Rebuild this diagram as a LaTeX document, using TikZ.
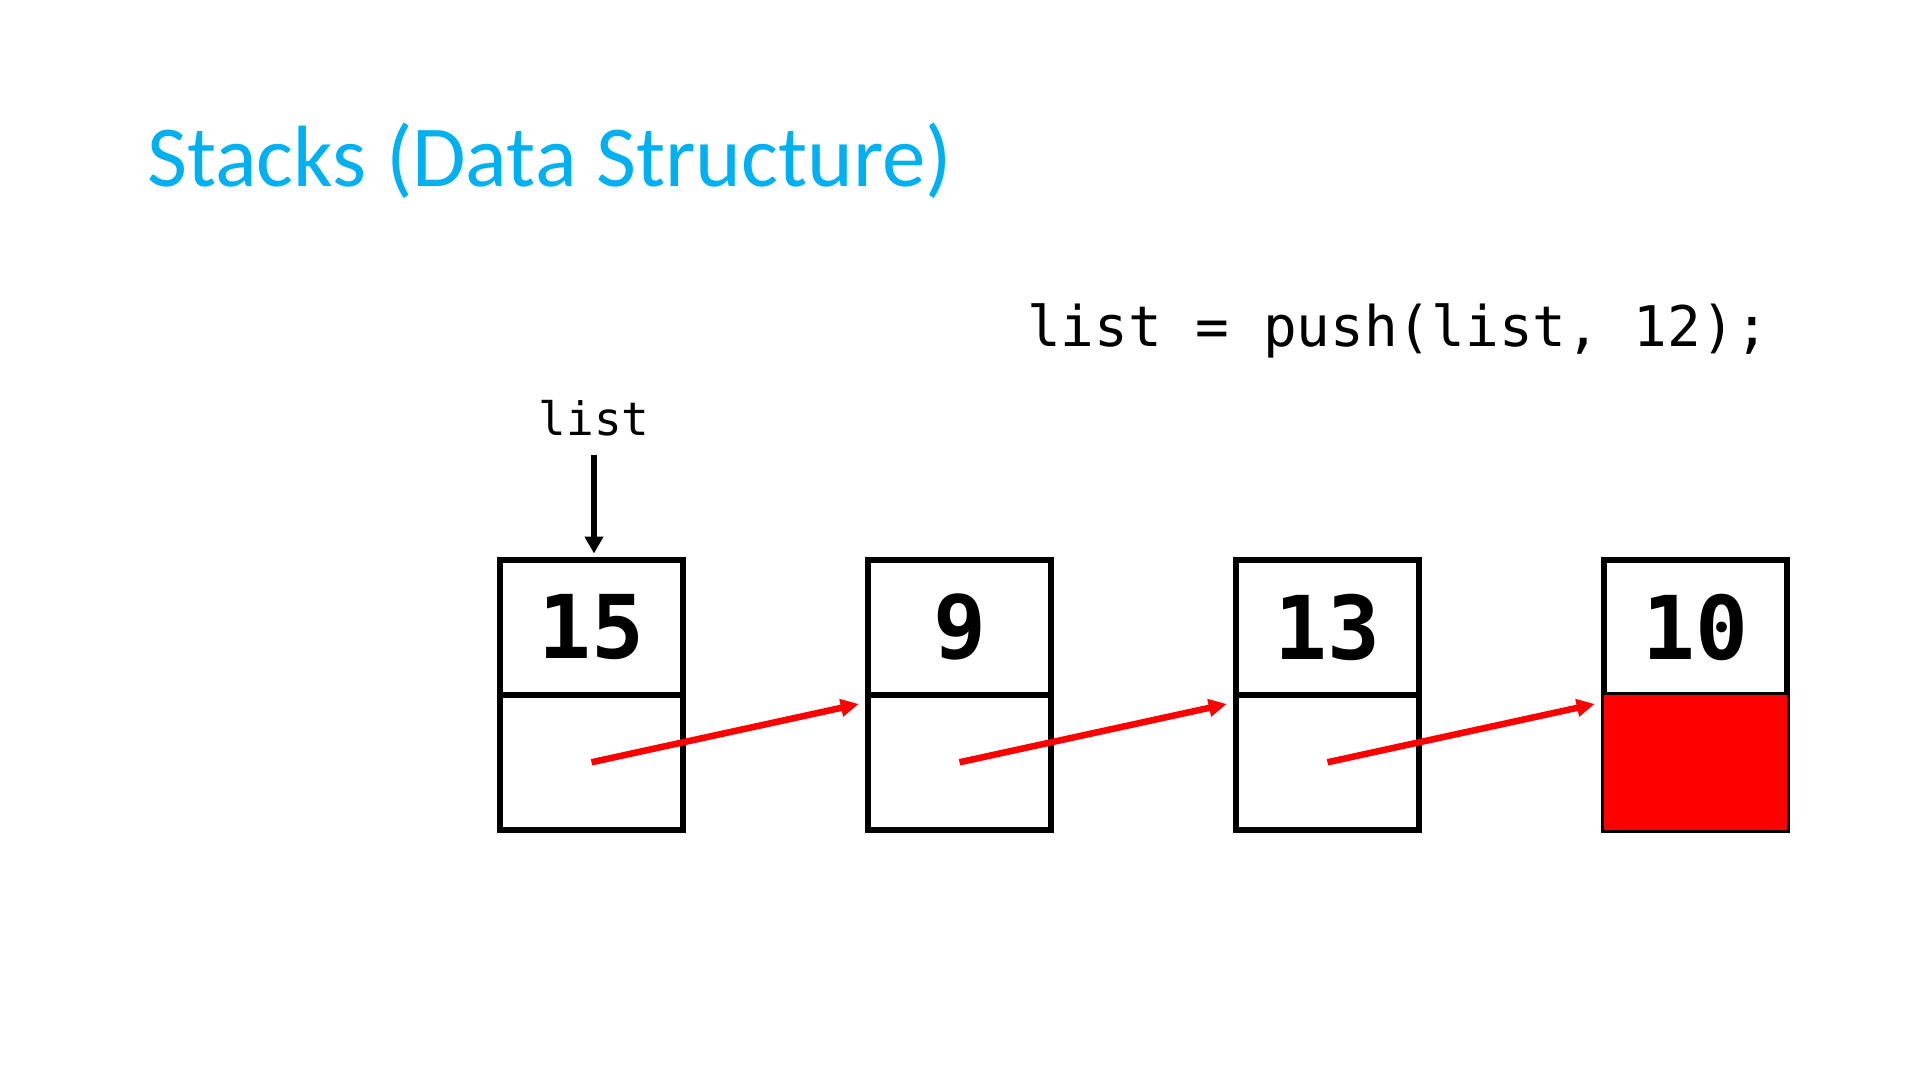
\documentclass[tikz,border=0pt]{standalone}
\usepackage{fontspec}
\setmainfont{Carlito}
\newfontfamily\codefont{DejaVu Sans Mono}
\usetikzlibrary{arrows.meta,calc}
\definecolor{titleblue}{RGB}{0,176,240}
\tikzset{
  cell/.style={draw=black, line width=6.5pt, minimum width=183pt, minimum height=135pt, inner sep=0pt, font=\codefont\bfseries\fontsize{88}{90}\selectfont},
  redlink/.style={draw=red, line width=6.5pt, -{Triangle[length=18pt,width=17pt]}},
  blacklink/.style={draw=black, line width=6pt, -{Triangle[length=17pt,width=18pt]}}
}
\begin{document}
\begin{tikzpicture}[x=1pt,y=-1pt]
\useasboundingbox (0,0) rectangle (1920,1080);
\node[anchor=base west, text=titleblue, font=\fontsize{87}{100}\selectfont, inner sep=0pt] (title) at (147,186) {Stacks (Data Structure)};
\node[anchor=base, font=\codefont\fontsize{56}{60}\selectfont, inner sep=0pt] (code) at (1398,346) {list = push(list, 12);};
\foreach \i/\x/\v in {1/591.5/15, 2/959.5/9, 3/1327.5/13, 4/1695.5/10} {
  \node[cell] (t\i) at (\x,627.25) {\v};
  \node[cell] (b\i) at (\x,762.25) {};
}
\fill[red] ($(b4.north west)+(3.25,3.25)$) rectangle ($(b4.south east)+(-3.25,-3.25)$);
\node[anchor=base, font=\codefont\fontsize{46}{50}\selectfont, inner sep=0pt] (lbl) at (594,435) {list};
\coordinate (lstart) at ($(t1.north)+(2.5,-102)$);
\draw[blacklink] (lstart) -- ($(t1.north)+(2.5,-3)$);
\draw[redlink] (b1.center) -- ($(t2.south west)+(-6,6)$);
\draw[redlink] (b2.center) -- ($(t3.south west)+(-6,6)$);
\draw[redlink] (b3.center) -- ($(t4.south west)+(-6,6)$);
\end{tikzpicture}
\end{document}
